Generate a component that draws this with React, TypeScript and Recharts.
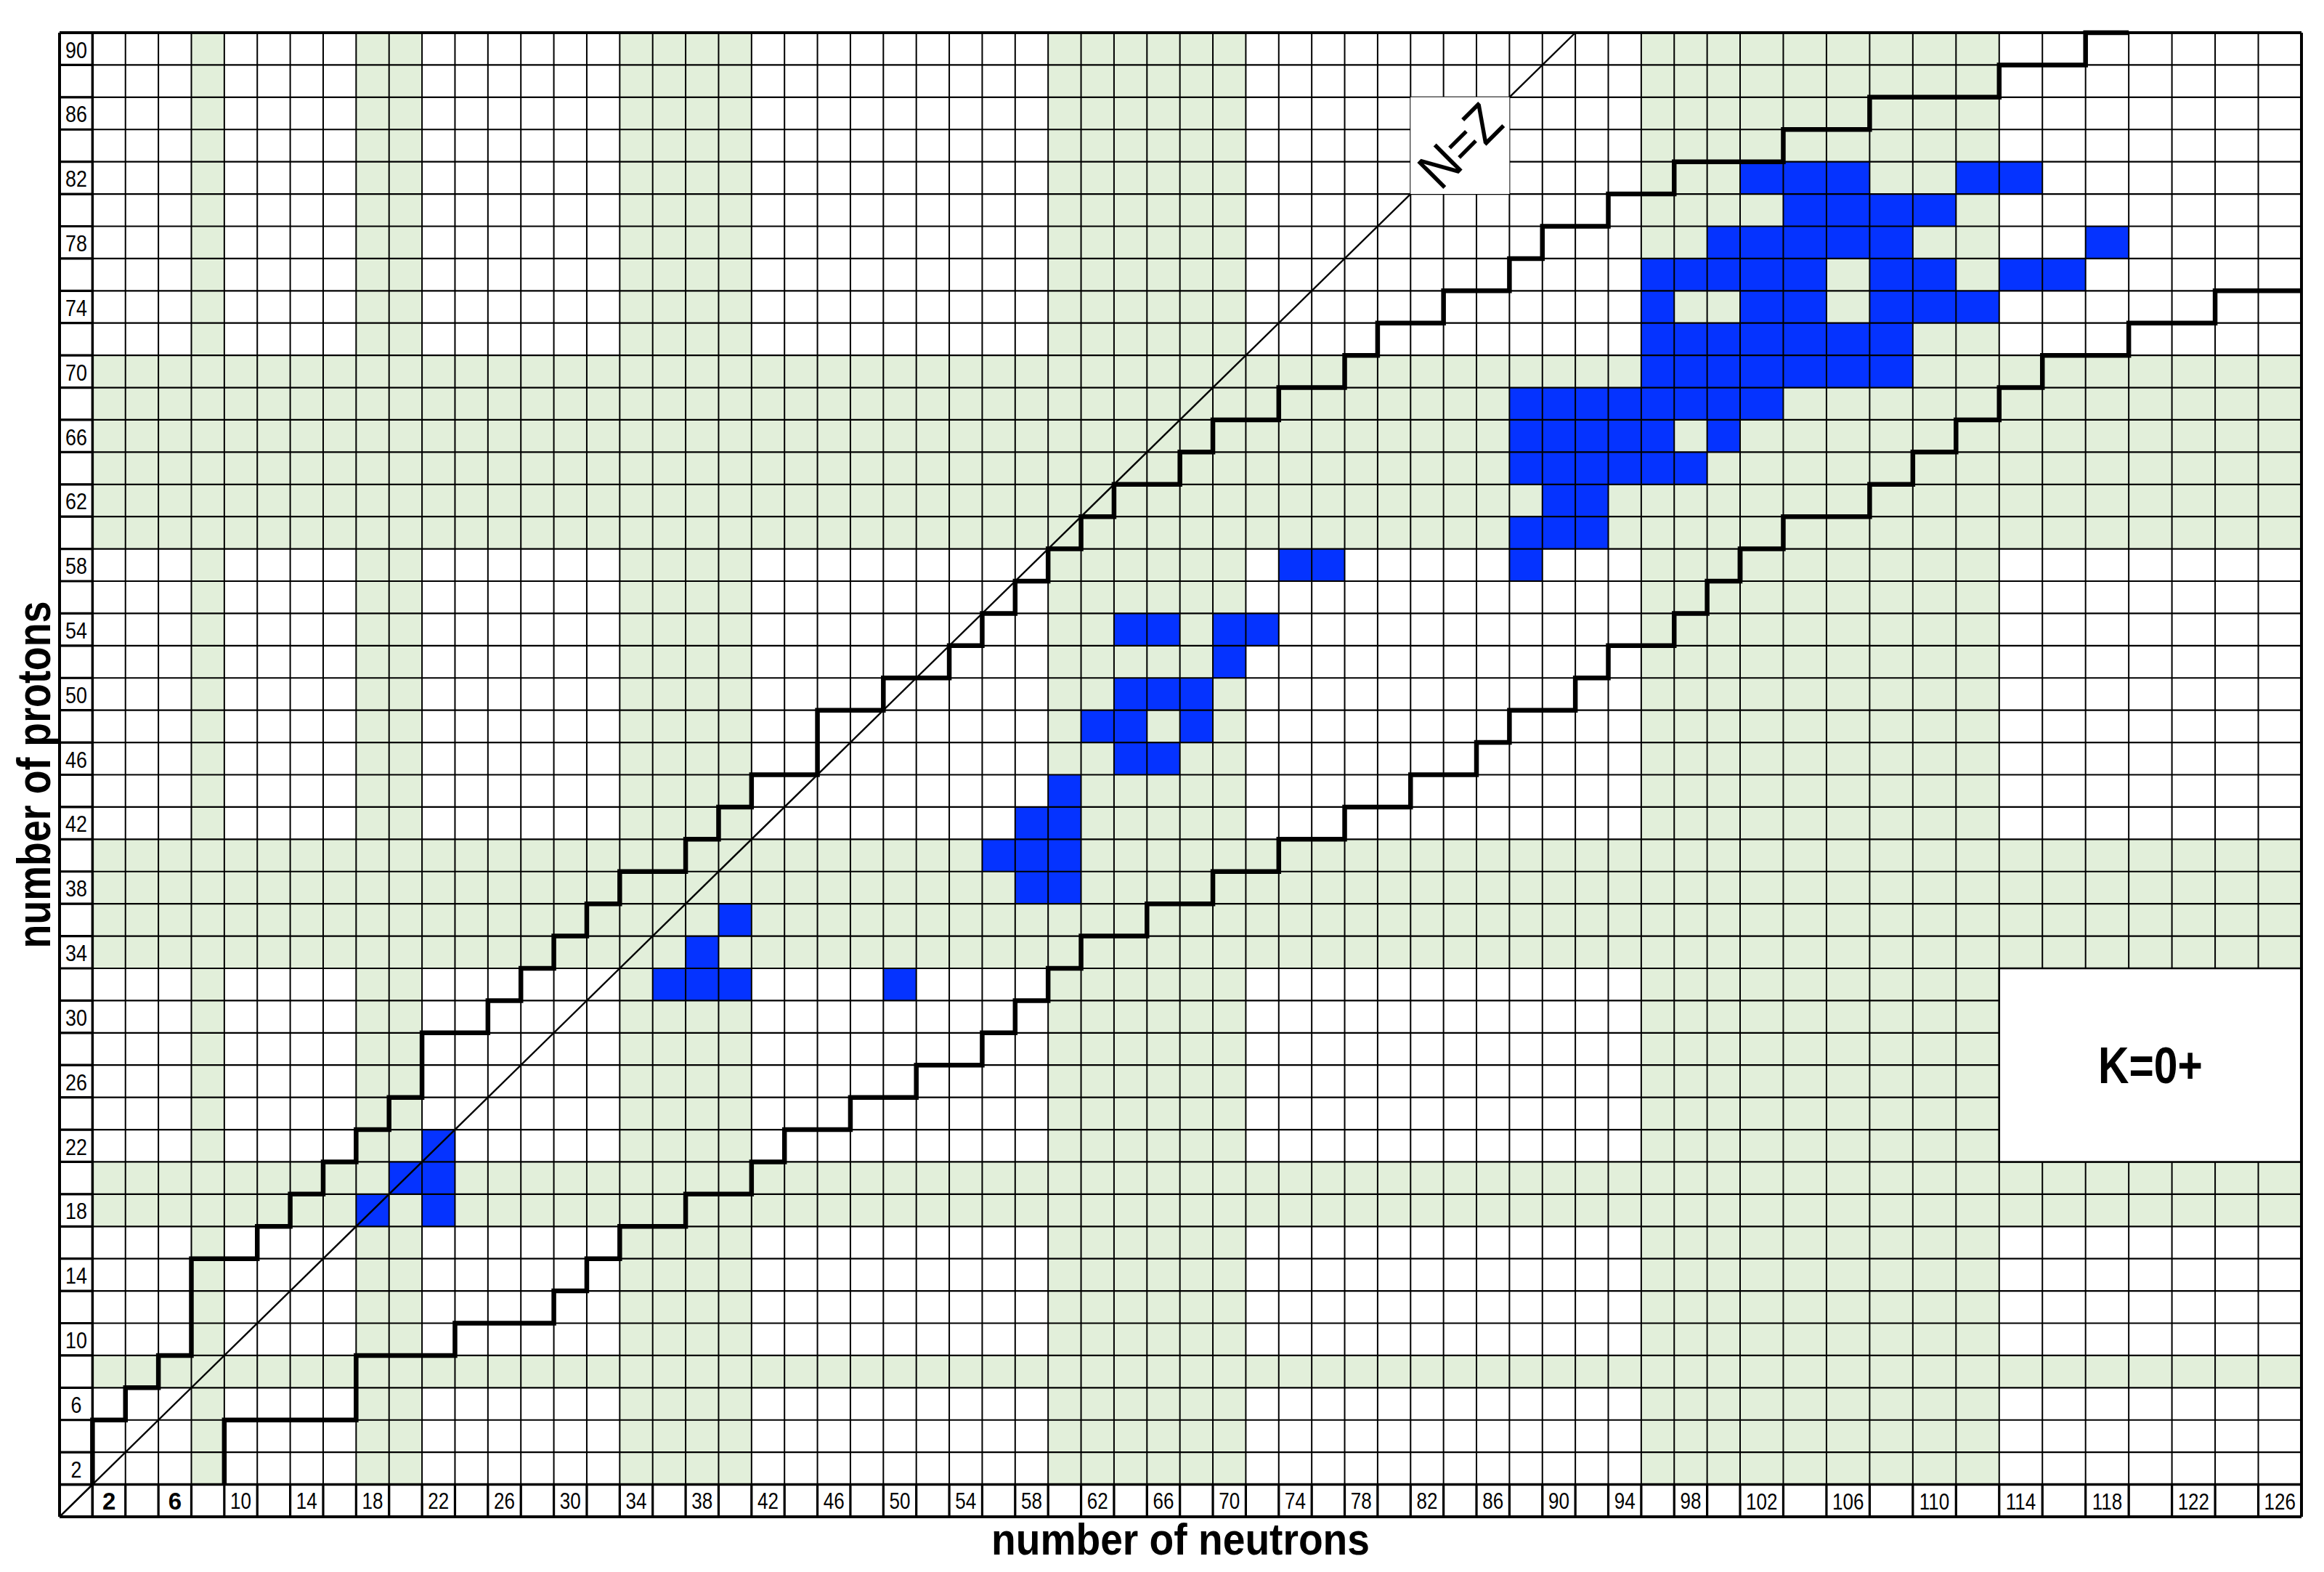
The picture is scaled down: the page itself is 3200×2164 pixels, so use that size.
import React from 'react';
import { ComposedChart, XAxis, YAxis, Line, ReferenceArea, ReferenceLine } from 'recharts';

const SANS = "'Liberation Sans', Arial, sans-serif";
const NARROW_SCALE = 0.84; // emulate the condensed face of the original

// Axis extents: every cell is 2 units wide, centred on an even number
const N_MIN = -1;
const N_SPLIT = 101; // columns from N=102 on are drawn wider in the original
const N_MAX = 127;
const Z_MIN = -1;
const Z_MAX = 91;

const neutronTicksA = [2, 6, 10, 14, 18, 22, 26, 30, 34, 38, 42, 46, 50, 54, 58, 62, 66, 70, 74, 78, 82, 86, 90, 94, 98];
const neutronTicksB = [102, 106, 110, 114, 118, 122, 126];
const protonTicks = [2, 6, 10, 14, 18, 22, 26, 30, 34, 38, 42, 46, 50, 54, 58, 62, 66, 70, 74, 78, 82, 86, 90];

// Shaded (deformed-region) bands, inclusive cell ranges
const greenNeutronBands: [number, number][] = [[8, 8], [18, 20], [34, 40], [60, 70], [96, 112]];
const greenProtonBands: [number, number][] = [[8, 8], [18, 20], [34, 40], [60, 70]];

// K=0+ nuclei: proton rows and the neutron numbers marked in each
const k0Protons = [18, 20, 22, 32, 34, 36, 38, 40, 42, 44, 46, 48, 50, 52, 54, 58, 60, 62, 64, 66, 68, 70, 72, 74, 76, 78, 80, 82];
const k0Neutrons: number[][] = [
  [18, 22],
  [20, 22],
  [22],
  [36, 38, 40, 50],
  [38],
  [40],
  [58, 60],
  [56, 58, 60],
  [58, 60],
  [60],
  [64, 66],
  [62, 64, 68],
  [64, 66, 68],
  [70],
  [64, 66, 70, 72],
  [74, 76, 88],
  [88, 90, 92],
  [90, 92],
  [88, 90, 92, 94, 96, 98],
  [88, 90, 92, 94, 96, 100],
  [88, 90, 92, 94, 96, 98, 100, 102],
  [96, 98, 100, 102, 104, 106, 108],
  [96, 98, 100, 102, 104, 106, 108],
  [96, 102, 104, 108, 110, 112],
  [96, 98, 100, 102, 104, 108, 110, 114, 116],
  [100, 102, 104, 106, 108, 118],
  [104, 106, 108, 110],
  [102, 104, 106, 112, 114],
];

// Limits of known nuclei (staircase vertices, N then Z)
const protonRichLimit: [number, number][] = [
  [1, 1], [1, 5], [3, 5], [3, 7], [5, 7], [5, 9], [7, 9], [7, 15], [11, 15], [11, 17], [13, 17], [13, 19],
  [15, 19], [15, 21], [17, 21], [17, 23], [19, 23], [19, 25], [21, 25], [21, 29], [25, 29], [25, 31],
  [27, 31], [27, 33], [29, 33], [29, 35], [31, 35], [31, 37], [33, 37], [33, 39], [37, 39], [37, 41],
  [39, 41], [39, 43], [41, 43], [41, 45], [45, 45], [45, 49], [49, 49], [49, 51], [53, 51], [53, 53],
  [55, 53], [55, 55], [57, 55], [57, 57], [59, 57], [59, 59], [61, 59], [61, 61], [63, 61], [63, 63],
  [67, 63], [67, 65], [69, 65], [69, 67], [73, 67], [73, 69], [77, 69], [77, 71], [79, 71], [79, 73],
  [83, 73], [83, 75], [87, 75], [87, 77], [89, 77], [89, 79], [93, 79], [93, 81], [97, 81], [97, 83],
  [103, 83], [103, 85], [107, 85], [107, 87], [113, 87], [113, 89], [117, 89], [117, 91], [119, 91],
];
const neutronRichLimit: [number, number][] = [
  [9, 1], [9, 5], [17, 5], [17, 9], [23, 9], [23, 11], [29, 11], [29, 13], [31, 13], [31, 15], [33, 15],
  [33, 17], [37, 17], [37, 19], [41, 19], [41, 21], [43, 21], [43, 23], [47, 23], [47, 25], [51, 25],
  [51, 27], [55, 27], [55, 29], [57, 29], [57, 31], [59, 31], [59, 33], [61, 33], [61, 35], [65, 35],
  [65, 37], [69, 37], [69, 39], [73, 39], [73, 41], [77, 41], [77, 43], [81, 43], [81, 45], [85, 45],
  [85, 47], [87, 47], [87, 49], [91, 49], [91, 51], [93, 51], [93, 53], [97, 53], [97, 55], [99, 55],
  [99, 57], [101, 57], [101, 59], [103, 59], [103, 61], [107, 61], [107, 63], [109, 63], [109, 65],
  [111, 65], [111, 67], [113, 67], [113, 69], [115, 69], [115, 71], [119, 71], [119, 73], [123, 73],
  [123, 75], [127, 75],
];
const nEqualsZ: [number, number][] = [[-1, -1], [91, 91]];

type Pt = { n: number; z: number };

// split a polyline into the part on the narrow-column axis and the part on the wide-column axis
function splitPolyline(points: [number, number][]): [Pt[], Pt[]] {
  const a: Pt[] = [];
  const b: Pt[] = [];
  for (let i = 0; i < points.length; i++) {
    const [n, z] = points[i];
    if (n <= N_SPLIT) a.push({ n, z });
    if (n >= N_SPLIT) b.push({ n, z });
    if (i < points.length - 1) {
      const [n2] = points[i + 1];
      if (n < N_SPLIT && n2 > N_SPLIT) {
        a.push({ n: N_SPLIT, z });
        b.push({ n: N_SPLIT, z });
      }
    }
  }
  return [a, b];
}

const axisOf = (n: number) => (n < N_SPLIT ? 'A' : 'B');

function NarrowText(props: {
  x: number; y: number; size: number; weight?: number; rotate?: number; children: React.ReactNode;
  baseline?: string; scale?: number;
}) {
  const { x, y, size, weight = 400, rotate = 0, children, baseline = 'central', scale = NARROW_SCALE } = props;
  return (
    <g transform={`translate(${x} ${y}) rotate(${rotate}) scale(${scale} 1)`}>
      <text x={0} y={0} textAnchor="middle" dominantBaseline={baseline} fontFamily={SANS}
        fontSize={size} fontWeight={weight} fill="#000">
        {children}
      </text>
    </g>
  );
}

function XTick(props: any) {
  const { x, y, payload } = props;
  const v = payload?.value;
  const wide = v === 2 || v === 6;
  return (
    <NarrowText x={x} y={y - 22} size={wide ? 33 : 31} weight={wide ? 700 : 400} scale={wide ? 1 : NARROW_SCALE}>
      {v}
    </NarrowText>
  );
}

function YTick(props: any) {
  const { x, y, payload } = props;
  return (
    <NarrowText x={x + 23} y={y + 1} size={32}>
      {payload?.value}
    </NarrowText>
  );
}

function XTitle(props: any) {
  const vb = props.viewBox || {};
  return (
    <NarrowText x={vb.x + vb.width / 2} y={vb.y + 52} size={62} weight={700} baseline="alphabetic" scale={0.89}>
      number of neutrons
    </NarrowText>
  );
}

function YTitle(props: any) {
  const vb = props.viewBox || {};
  return (
    <NarrowText x={vb.x - 12} y={vb.y + vb.height / 2} size={64} weight={700} rotate={-90} baseline="alphabetic">
      number of protons
    </NarrowText>
  );
}

function NZLabel(props: any) {
  const vb = props.viewBox || {};
  return (
    <NarrowText x={vb.x + vb.width / 2} y={vb.y + vb.height / 2} size={74} rotate={-45} scale={0.9}>
      N=Z
    </NarrowText>
  );
}

function KLabel(props: any) {
  const vb = props.viewBox || {};
  return (
    <NarrowText x={vb.x + vb.width / 2} y={vb.y + vb.height / 2} size={70} weight={700}>
      K=0+
    </NarrowText>
  );
}

const GREEN = '#E2EFDA';
const BLUE = '#0533FF';

export default function App() {
  const [upperA, upperB] = splitPolyline(protonRichLimit);
  const [lowerA, lowerB] = splitPolyline(neutronRichLimit);
  const nzLine = nEqualsZ.map(([n, z]) => ({ n, z }));

  const nBounds: number[] = [];
  for (let n = N_MIN; n <= N_MAX; n += 2) nBounds.push(n);
  const zBounds: number[] = [];
  for (let z = Z_MIN; z <= Z_MAX; z += 2) zBounds.push(z);

  const areas: React.ReactNode[] = [];
  // green vertical bands (exclude the label row)
  greenNeutronBands.forEach(([lo, hi], i) => {
    const x1 = lo - 1;
    const x2 = hi + 1;
    if (x1 < N_SPLIT && x2 > N_SPLIT) {
      areas.push(<ReferenceArea key={`gv${i}a`} xAxisId="A" yAxisId="Z" x1={x1} x2={N_SPLIT} y1={1} y2={Z_MAX} fill={GREEN} fillOpacity={1} stroke="none" ifOverflow="visible" zIndex={101} />);
      areas.push(<ReferenceArea key={`gv${i}b`} xAxisId="B" yAxisId="Z" x1={N_SPLIT} x2={x2} y1={1} y2={Z_MAX} fill={GREEN} fillOpacity={1} stroke="none" ifOverflow="visible" zIndex={101} />);
    } else {
      areas.push(<ReferenceArea key={`gv${i}`} xAxisId={axisOf(lo)} yAxisId="Z" x1={x1} x2={x2} y1={1} y2={Z_MAX} fill={GREEN} fillOpacity={1} stroke="none" ifOverflow="visible" zIndex={101} />);
    }
  });
  // green horizontal bands (exclude the label column)
  greenProtonBands.forEach(([lo, hi], i) => {
    areas.push(<ReferenceArea key={`gh${i}a`} xAxisId="A" yAxisId="Z" x1={1} x2={N_SPLIT} y1={lo - 1} y2={hi + 1} fill={GREEN} fillOpacity={1} stroke="none" ifOverflow="visible" zIndex={101} />);
    areas.push(<ReferenceArea key={`gh${i}b`} xAxisId="B" yAxisId="Z" x1={N_SPLIT} x2={N_MAX} y1={lo - 1} y2={hi + 1} fill={GREEN} fillOpacity={1} stroke="none" ifOverflow="visible" zIndex={101} />);
  });
  // K=0+ cells
  k0Protons.forEach((z, r) => {
    k0Neutrons[r].forEach((n) => {
      areas.push(<ReferenceArea key={`k${z}-${n}`} xAxisId={axisOf(n)} yAxisId="Z" x1={n - 1} x2={n + 1} y1={z - 1} y2={z + 1} fill={BLUE} fillOpacity={1} stroke="none" ifOverflow="visible" zIndex={102} />);
    });
  });

  const grid: React.ReactNode[] = [];
  nBounds.forEach((n) => {
    const thick = n === 1;
    grid.push(<ReferenceLine key={`v${n}`} xAxisId={n <= N_SPLIT ? 'A' : 'B'} yAxisId="Z" segment={[{ x: n, y: Z_MIN }, { x: n, y: Z_MAX }]} stroke="#000" strokeWidth={thick ? 3.5 : 2} ifOverflow="visible" zIndex={103} />);
    // label-row cell walls are heavier
    grid.push(<ReferenceLine key={`vl${n}`} xAxisId={n <= N_SPLIT ? 'A' : 'B'} yAxisId="Z" segment={[{ x: n, y: Z_MIN }, { x: n, y: 1 }]} stroke="#000" strokeWidth={3.2} ifOverflow="visible" zIndex={104} />);
  });
  zBounds.forEach((z) => {
    const thick = z === 1;
    grid.push(<ReferenceLine key={`h${z}a`} xAxisId="A" yAxisId="Z" segment={[{ x: N_MIN, y: z }, { x: N_SPLIT, y: z }]} stroke="#000" strokeWidth={thick ? 3.5 : 2.2} ifOverflow="visible" zIndex={103} />);
    grid.push(<ReferenceLine key={`h${z}b`} xAxisId="B" yAxisId="Z" segment={[{ x: N_SPLIT, y: z }, { x: N_MAX, y: z }]} stroke="#000" strokeWidth={thick ? 3.5 : 2.2} ifOverflow="visible" zIndex={103} />);
    grid.push(<ReferenceLine key={`hl${z}`} xAxisId="A" yAxisId="Z" segment={[{ x: N_MIN, y: z }, { x: 1, y: z }]} stroke="#000" strokeWidth={3.2} ifOverflow="visible" zIndex={104} />);
  });

  const stairProps = {
    type: 'linear' as const,
    dataKey: 'z',
    yAxisId: 'Z',
    stroke: '#000',
    strokeWidth: 6.5,
    strokeLinejoin: 'miter' as const,
    dot: false,
    activeDot: false,
    isAnimationActive: false,
    zIndex: 107,
  };

  return (
    <ComposedChart width={3184} height={2150} margin={{ top: 37, right: 23, bottom: 68, left: 73 }}>
      <XAxis xAxisId="A" dataKey="n" type="number" domain={[N_MIN, N_SPLIT]} padding={{ left: 0, right: 773 }}
        ticks={neutronTicksA} interval={0} tick={<XTick />} tickLine={false} axisLine={false} height={1}
        tickSize={0} tickMargin={0} label={<XTitle />} />
      <XAxis xAxisId="B" dataKey="n" type="number" domain={[N_SPLIT, N_MAX]} padding={{ left: 2314, right: 0 }}
        ticks={neutronTicksB} interval={0} tick={<XTick />} tickLine={false} axisLine={false} height={1}
        tickSize={0} tickMargin={0} />
      <YAxis yAxisId="Z" dataKey="z" type="number" domain={[Z_MIN, Z_MAX]} ticks={protonTicks} interval={0}
        tick={<YTick />} tickLine={false} axisLine={false} width={1} tickSize={0} tickMargin={0}
        label={<YTitle />} />

      {areas}
      {grid}

      <ReferenceLine xAxisId="A" yAxisId="Z" segment={[{ x: nzLine[0].n, y: nzLine[0].z }, { x: nzLine[1].n, y: nzLine[1].z }]}
        stroke="#000" strokeWidth={2.4} ifOverflow="visible" zIndex={105} />
      <ReferenceArea xAxisId="A" yAxisId="Z" x1={81} x2={87} y1={81} y2={87} fill="#fff" fillOpacity={1}
        stroke="none" ifOverflow="visible" zIndex={106} label={<NZLabel />} />

      <Line {...stairProps} xAxisId="A" data={upperA} />
      <Line {...stairProps} xAxisId="B" data={upperB} />
      <Line {...stairProps} xAxisId="A" data={lowerA} />
      <Line {...stairProps} xAxisId="B" data={lowerB} />

      <ReferenceArea xAxisId="B" yAxisId="Z" x1={113} x2={127} y1={21} y2={33} fill="#fff" fillOpacity={1}
        stroke="#000" strokeWidth={2.5} ifOverflow="visible" zIndex={108} label={<KLabel />} />

      <ReferenceLine xAxisId="A" yAxisId="Z" segment={[{ x: N_MIN, y: Z_MIN }, { x: N_MIN, y: Z_MAX }]} stroke="#000" strokeWidth={4} ifOverflow="visible" zIndex={109} />
      <ReferenceLine xAxisId="B" yAxisId="Z" segment={[{ x: N_MAX, y: Z_MIN }, { x: N_MAX, y: Z_MAX }]} stroke="#000" strokeWidth={4} ifOverflow="visible" zIndex={109} />
      <ReferenceLine xAxisId="A" yAxisId="Z" segment={[{ x: N_MIN, y: Z_MAX }, { x: N_SPLIT, y: Z_MAX }]} stroke="#000" strokeWidth={4} ifOverflow="visible" zIndex={109} />
      <ReferenceLine xAxisId="B" yAxisId="Z" segment={[{ x: N_SPLIT, y: Z_MAX }, { x: N_MAX, y: Z_MAX }]} stroke="#000" strokeWidth={4} ifOverflow="visible" zIndex={109} />
      <ReferenceLine xAxisId="A" yAxisId="Z" segment={[{ x: N_MIN, y: Z_MIN }, { x: N_SPLIT, y: Z_MIN }]} stroke="#000" strokeWidth={4} ifOverflow="visible" zIndex={109} />
      <ReferenceLine xAxisId="B" yAxisId="Z" segment={[{ x: N_SPLIT, y: Z_MIN }, { x: N_MAX, y: Z_MIN }]} stroke="#000" strokeWidth={4} ifOverflow="visible" zIndex={109} />
      <ReferenceLine xAxisId="A" yAxisId="Z" segment={[{ x: N_MIN, y: Z_MIN }, { x: 1, y: 1 }]} stroke="#000" strokeWidth={2.4} ifOverflow="visible" zIndex={105} />
    </ComposedChart>
  );
}
